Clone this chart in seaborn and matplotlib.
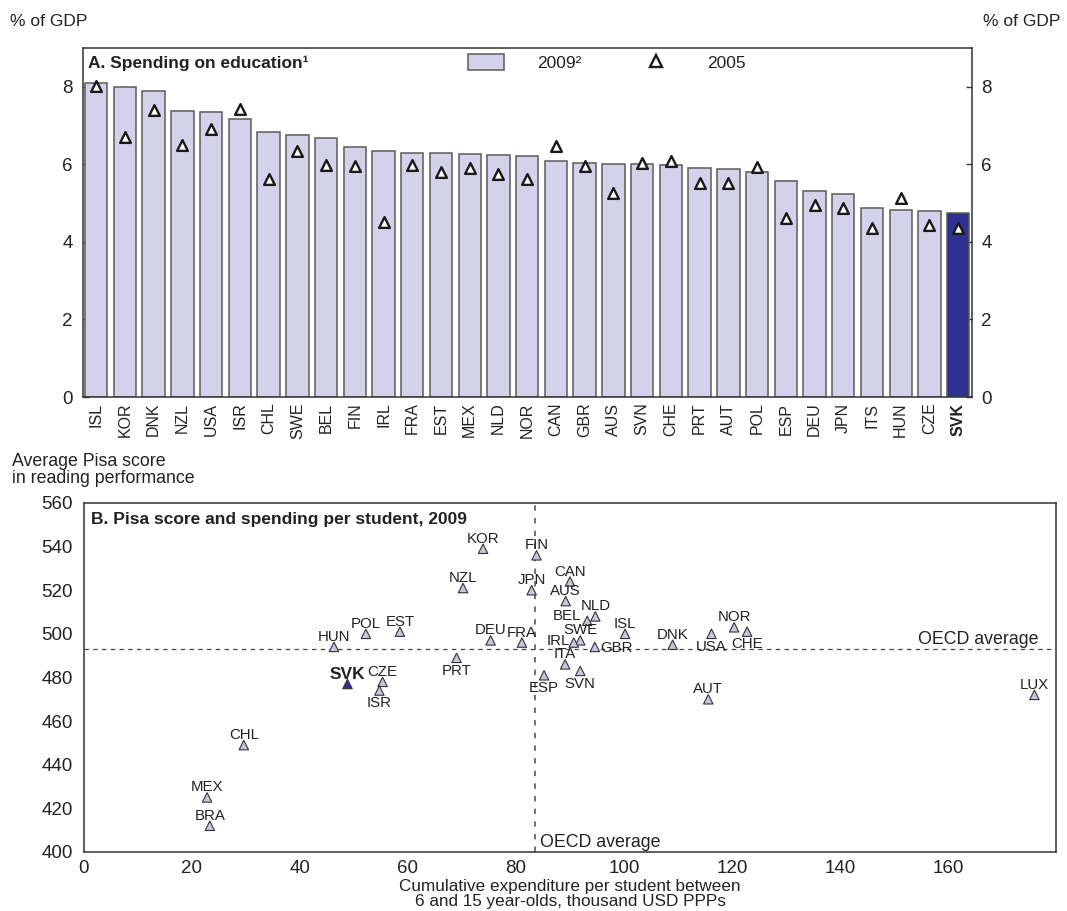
import numpy as np
import pandas as pd
import matplotlib
matplotlib.use("Agg")
import matplotlib.pyplot as plt
import seaborn as sns
from matplotlib.patches import Patch
from matplotlib.lines import Line2D

# ---------------- Data: panel A ----------------
countries_a = ["ISL", "KOR", "DNK", "NZL", "USA", "ISR", "CHL", "SWE", "BEL", "FIN",
               "IRL", "FRA", "EST", "MEX", "NLD", "NOR", "CAN", "GBR", "AUS", "SVN",
               "CHE", "PRT", "AUT", "POL", "ESP", "DEU", "JPN", "ITS", "HUN", "CZE", "SVK"]
spend_2009 = [8.09, 7.98, 7.88, 7.37, 7.34, 7.16, 6.84, 6.75, 6.67, 6.44,
              6.35, 6.30, 6.28, 6.25, 6.24, 6.22, 6.08, 6.04, 6.01, 6.00,
              5.97, 5.90, 5.88, 5.81, 5.56, 5.32, 5.23, 4.88, 4.83, 4.80, 4.75]
spend_2005 = [8.02, 6.71, 7.40, 6.49, 6.90, 7.43, 5.63, 6.34, 5.97, 5.95,
              4.51, 5.99, 5.80, 5.91, 5.75, 5.61, 6.48, 5.95, 5.25, 6.02,
              6.07, 5.51, 5.51, 5.92, 4.60, 4.95, 4.88, 4.35, 5.12, 4.43, 4.36]

# ---------------- Data: panel B ----------------
countries_b = ["KOR", "FIN", "NZL", "JPN", "CAN", "AUS", "NLD", "BEL", "ISL", "DEU",
               "FRA", "SWE", "IRL", "GBR", "ITA", "SVN", "ESP", "PRT", "DNK", "USA",
               "NOR", "CHE", "AUT", "LUX", "HUN", "POL", "EST", "SVK", "CZE", "ISR",
               "CHL", "MEX", "BRA"]
spend_per_student = [73.9, 83.8, 70.2, 82.9, 90.0, 89.2, 94.7, 93.2, 100.2, 75.3,
                     81.1, 91.9, 90.7, 94.6, 89.1, 91.9, 85.2, 69.0, 109.0, 116.2,
                     120.4, 122.8, 115.6, 176.0, 46.3, 52.2, 58.5, 48.8, 55.3, 54.7,
                     29.6, 22.8, 23.3]
pisa_score = [539, 536, 521, 520, 524, 515, 508, 506, 500, 497,
              496, 497, 496, 494, 486, 483, 481, 489, 495, 500,
              503, 501, 470, 472, 494, 500, 501, 477, 478, 474,
              449, 425, 412]
oecd_avg_spend = 83.6
oecd_avg_pisa = 493

# label placement (dx, dy in points, ha)
ABOVE = (0, 4.3, "center")
BELOW = (0, -12.0, "center")
label_place = {c: ABOVE for c in countries_b}
label_place.update({
    "SVN": BELOW, "ESP": BELOW, "PRT": BELOW, "USA": BELOW, "CHE": BELOW, "ISR": BELOW,
    "IRL": (-2.9, -2.1, "right"), "BEL": (-4.5, 0.6, "right"), "GBR": (3.6, -3.3, "left"),
})

# ---------------- Style ----------------
LIGHT = "#d4d2ea"
LIGHT_PT = "#c6c5e2"
DARK = "#2e3192"
EDGE = "#5a5a5a"
AX = "#333333"
TXT = "#222222"

sns.set_theme(style="white")
plt.rcParams["font.family"] = ["Liberation Sans", "DejaVu Sans"]
plt.rcParams["axes.edgecolor"] = AX
plt.rcParams["axes.linewidth"] = 1.1
plt.rcParams["text.color"] = TXT
plt.rcParams["xtick.color"] = AX
plt.rcParams["ytick.color"] = AX
plt.rcParams["xtick.labelcolor"] = TXT
plt.rcParams["ytick.labelcolor"] = TXT

fig = plt.figure(figsize=(10.67, 9.11), dpi=100)

# ================= Panel A =================
ax1 = fig.add_axes([0.0775, 0.5642, 0.8332, 0.3834])
df_a = pd.DataFrame({"country": countries_a, "v2009": spend_2009, "v2005": spend_2005})
pal = {c: (DARK if c == "SVK" else LIGHT) for c in countries_a}
sns.barplot(data=df_a, x="country", y="v2009", hue="country", palette=pal,
            legend=False, width=0.78, edgecolor=EDGE, linewidth=1.1,
            saturation=1, ax=ax1, zorder=2)
sns.scatterplot(x=np.arange(len(countries_a)), y=df_a["v2005"], marker="^", s=60,
                color="white", edgecolor="#1a1a1a", linewidth=1.7, ax=ax1, zorder=3)
ax1.set_xlim(-0.47, len(countries_a) - 0.53)
ax1.set_ylim(0, 9)
ax1.set_yticks([0, 2, 4, 6, 8])
ax1.set_xlabel("")
ax1.set_ylabel("")
ax1.set_xticks(np.arange(len(countries_a)))
ax1.set_xticklabels(countries_a, rotation=90, fontsize=11.5)
for lab in ax1.get_xticklabels():
    if lab.get_text() == "SVK":
        lab.set_fontweight("bold")
ax1.tick_params(axis="x", length=0, pad=4)
ax1.tick_params(axis="y", direction="in", length=4, width=1, labelsize=13.5,
                left=True, right=True, labelleft=True, labelright=True, pad=7)
for s in ax1.spines.values():
    s.set_visible(True)
ax1.text(0.006, 0.956, "A. Spending on education\u00b9", transform=ax1.transAxes,
         fontsize=12.5, fontweight="bold", ha="left", va="center")

handles = [
    Patch(facecolor=LIGHT, edgecolor=EDGE, linewidth=1.1, label="2009\u00b2"),
    Line2D([], [], marker="^", ls="none", markerfacecolor="white",
           markeredgecolor="#1a1a1a", markeredgewidth=1.7, markersize=8.5, label="2005"),
]
fig.legend(handles=handles, loc="upper left", bbox_to_anchor=(468 / 1067, 1 - 54 / 911),
           ncol=2, frameon=False, fontsize=12.5, handlelength=2.1, handleheight=1.0,
           handletextpad=1.9, columnspacing=3.2, borderpad=0, borderaxespad=0)

fig.text(10 / 1067, 1 - 22 / 911, "% of GDP", fontsize=12.5, ha="left", va="center")
fig.text(1060 / 1067, 1 - 22 / 911, "% of GDP", fontsize=12.5, ha="right", va="center")

# ================= Panel B =================
ax2 = fig.add_axes([0.0787, 0.0648, 0.911, 0.3831])
df_b = pd.DataFrame({"country": countries_b, "spend": spend_per_student, "pisa": pisa_score})
df_b["grp"] = np.where(df_b["country"] == "SVK", "SVK", "other")
ax2.axhline(oecd_avg_pisa, ls=(0, (3.5, 3.5)), color="#444444", lw=0.9, zorder=1)
ax2.axvline(oecd_avg_spend, ls=(0, (3, 4)), color="#666666", lw=1.3, zorder=1)
sns.scatterplot(data=df_b, x="spend", y="pisa", hue="grp",
                palette={"other": LIGHT_PT, "SVK": DARK}, marker="^", s=46,
                edgecolor="#333333", linewidth=0.8, legend=False, ax=ax2, zorder=3)
for c, xv, yv in zip(df_b["country"], df_b["spend"], df_b["pisa"]):
    dx, dy, ha = label_place[c]
    if c == "SVK":
        ax2.annotate(c, (xv, yv), xytext=(0, 3.5), textcoords="offset points",
                     ha="center", va="baseline", fontsize=12.5, fontweight="bold")
    else:
        ax2.annotate(c, (xv, yv), xytext=(dx, dy), textcoords="offset points",
                     ha=ha, va="baseline", fontsize=10.8)

ax2.annotate("OECD average", (180, oecd_avg_pisa), xytext=(-12.5, 3.6),
             textcoords="offset points", ha="right", va="baseline", fontsize=12.8)
ax2.annotate("OECD average", (oecd_avg_spend, 400), xytext=(3.6, 3.8),
             textcoords="offset points", ha="left", va="baseline", fontsize=12.8)

ax2.set_xlim(0, 180)
ax2.set_ylim(400, 560)
ax2.set_xticks(np.arange(0, 161, 20))
ax2.set_yticks(np.arange(400, 561, 20))
ax2.set_xlabel("")
ax2.set_ylabel("")
ax2.tick_params(axis="y", direction="in", length=4, width=1, labelsize=13.5, pad=8)
ax2.tick_params(axis="x", direction="in", length=4, width=1, labelsize=13.5, pad=6)
for s in ax2.spines.values():
    s.set_visible(True)
ax2.text(0.007, 0.954, "B. Pisa score and spending per student, 2009",
         transform=ax2.transAxes, fontsize=12.5, fontweight="bold", ha="left", va="center")

fig.text(12 / 1067, 1 - 470 / 911, "Average Pisa score\nin reading performance",
         fontsize=12.8, ha="left", va="center", linespacing=0.95)
fig.text(570 / 1067, 2 / 911,
         "Cumulative expenditure per student between\n6 and 15 year-olds, thousand USD PPPs",
         fontsize=12.3, ha="center", va="bottom", linespacing=1.0)

fig.savefig("out.png", dpi=100)
